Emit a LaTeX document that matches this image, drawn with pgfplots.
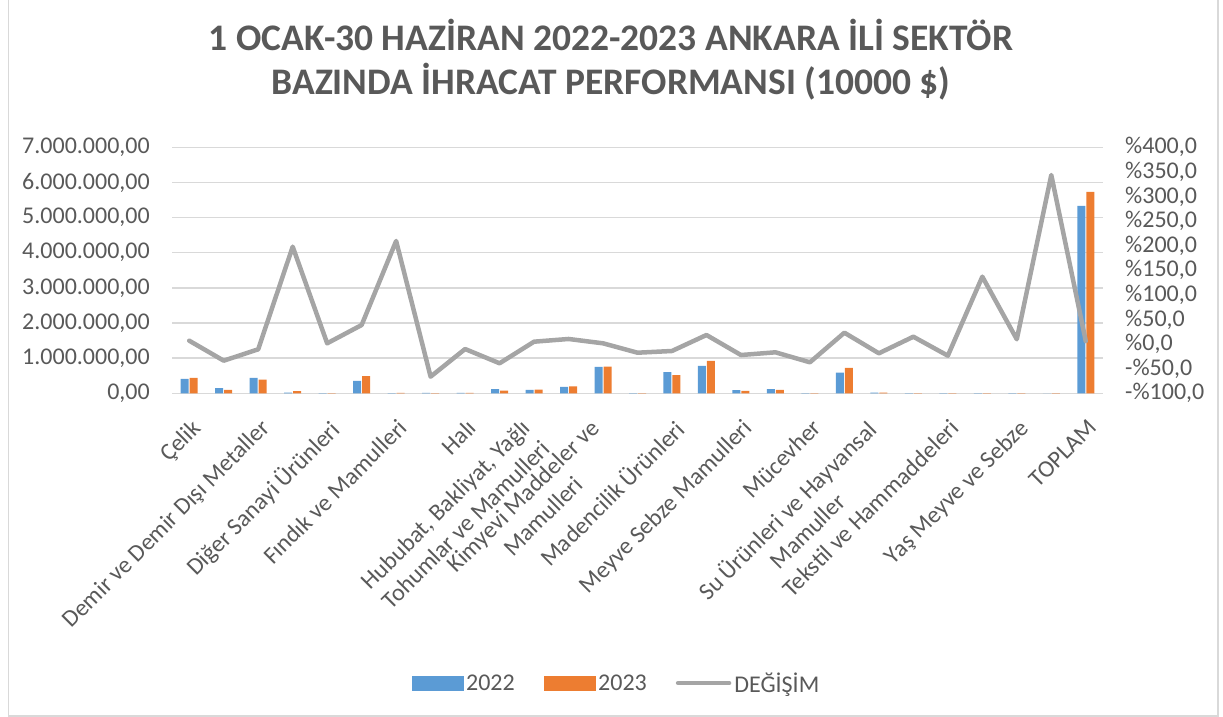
\documentclass[border=0pt]{standalone}
\usepackage{fontspec}
\setmainfont{Carlito}
\usepackage{pgfplots}
\usepackage{pgfplotstable}
\pgfplotsset{compat=1.18}
\definecolor{cA}{HTML}{5B9BD5}
\definecolor{cB}{HTML}{ED7D31}
\definecolor{cL}{HTML}{A5A5A5}
\definecolor{txt}{HTML}{595959}
\definecolor{grd}{HTML}{D9D9D9}
\pgfplotstableread{
pos y2022 y2023 chg
1 410000 440000 6.9
2 150000 100000 -33.7
3 440000 390000 -10.6
4 20000 60000 198
5 8000 8100 1.6
6 350000 490000 38.8
7 3000 9300 209.6
8 12000 4000 -66.2
9 10000 9000 -10
10 120000 73000 -39
11 100000 105000 4.9
12 180000 199000 10.4
13 750000 762000 1.6
14 6000 4950 -17.5
15 600000 516000 -14
16 780000 925000 18.5
17 90000 70000 -22.2
18 120000 100000 -16.7
19 5000 3150 -37
20 585000 720000 23.2
21 20000 16300 -18.7
22 2000 2300 15
23 5000 3820 -23.6
24 3000 7110 137
25 5000 5490 9.8
26 1000 4440 343.7
27 5330000 5730000 6
}\datatable
\newcommand{\lbl}{\fontsize{24bp}{28.5bp}\selectfont}
\begin{document}
\begin{tikzpicture}
\useasboundingbox (0,0) rectangle (1223bp,717bp);
\draw[grd, line width=1.5bp] (8.5bp,717bp) -- (8.5bp,1bp) -- (1218bp,1bp) -- (1218bp,717bp);
\node[font=\bfseries\fontsize{37.5bp}{44bp}\selectfont, text=txt, align=center] at (611bp,657bp)
 {1 OCAK-30 HAZİRAN 2022-2023 ANKARA İLİ SEKTÖR\\BAZINDA İHRACAT PERFORMANSI (10000 \$)};
\begin{axis}[
  scale only axis, width=931bp, height=246bp,
  at={(172bp,323.7bp)}, anchor=south west,
  xmin=0.5, xmax=27.5, ymin=0, ymax=7000000,
  scaled y ticks=false,
  axis line style={draw=none}, major tick style={draw=none},
  ymajorgrids, grid style={grd, line width=1.5bp},
  ytick={0,1000000,2000000,3000000,4000000,5000000,6000000,7000000},
  yticklabels={{0,00},{1.000.000,00},{2.000.000,00},{3.000.000,00},{4.000.000,00},{5.000.000,00},{6.000.000,00},{7.000.000,00}},
  yticklabel style={font=\lbl, text=txt, anchor=east, inner sep=0pt, xshift=-22bp},
  xtick={1,3,5,7,9,15,17,19,23,25,27},
  xticklabels={Çelik, Demir ve Demir Dışı Metaller, Diğer Sanayi Ürünleri, Fındık ve Mamulleri, Halı, Madencilik Ürünleri, Meyve Sebze Mamulleri, Mücevher, Tekstil ve Hammaddeleri, Yaş Meyve ve Sebze, TOPLAM},
  xticklabel style={font=\lbl, text=txt, xshift=1bp, yshift=-20bp, rotate=45, anchor=north east, align=center, inner sep=0pt},
  extra x ticks={11,13,21},
  extra x tick labels={{Hububat, Bakliyat, Yağlı\\Tohumlar ve Mamulleri}, {Kimyevi Maddeler ve\\Mamulleri}, {Su Ürünleri ve Hayvansal\\Mamuller}},
  extra x tick style={xticklabel style={xshift=-10.6bp, yshift=10.6bp}},
  ybar=1bp, bar width=8bp,
]
\addplot[fill=cA, draw=none] table[x=pos, y=y2022] {\datatable};
\addplot[fill=cB, draw=none] table[x=pos, y=y2023] {\datatable};
\end{axis}
\begin{axis}[
  scale only axis, width=931bp, height=246bp,
  at={(172bp,323.7bp)}, anchor=south west,
  xmin=0.5, xmax=27.5, ymin=-100, ymax=400,
  axis line style={draw=none}, major tick style={draw=none},
  xtick=\empty,
  ytick={-100,-50,...,400},
  yticklabels={{-\%100,0},{-\%50,0},{\%0,0},{\%50,0},{\%100,0},{\%150,0},{\%200,0},{\%250,0},{\%300,0},{\%350,0},{\%400,0}},
  yticklabel pos=right,
  yticklabel style={font=\lbl, text=txt, anchor=west, inner sep=0pt, xshift=22bp},
  legend style={at={(0.478,-1.178)}, anchor=center, draw=none, font=\lbl, text=txt,
    legend columns=3, /tikz/every even column/.append style={column sep=26bp},
    nodes={inner sep=3bp}},
]
\addlegendimage{legend image code/.code={\fill[cA] (0bp,-7bp) rectangle (51bp,7bp);}}
\addlegendentry{2022}
\addlegendimage{legend image code/.code={\fill[cB] (0bp,-7bp) rectangle (51bp,7bp);}}
\addlegendentry{2023}
\addplot[cL, line width=4.5bp, line join=round, line cap=round,
  legend image code/.code={\draw[cL, line width=4.5bp, line cap=round] (2bp,0bp) -- (53bp,0bp);}]
  table[x=pos, y=chg] {\datatable};
\addlegendentry{DEĞİŞİM}
\end{axis}
\end{tikzpicture}
\end{document}
